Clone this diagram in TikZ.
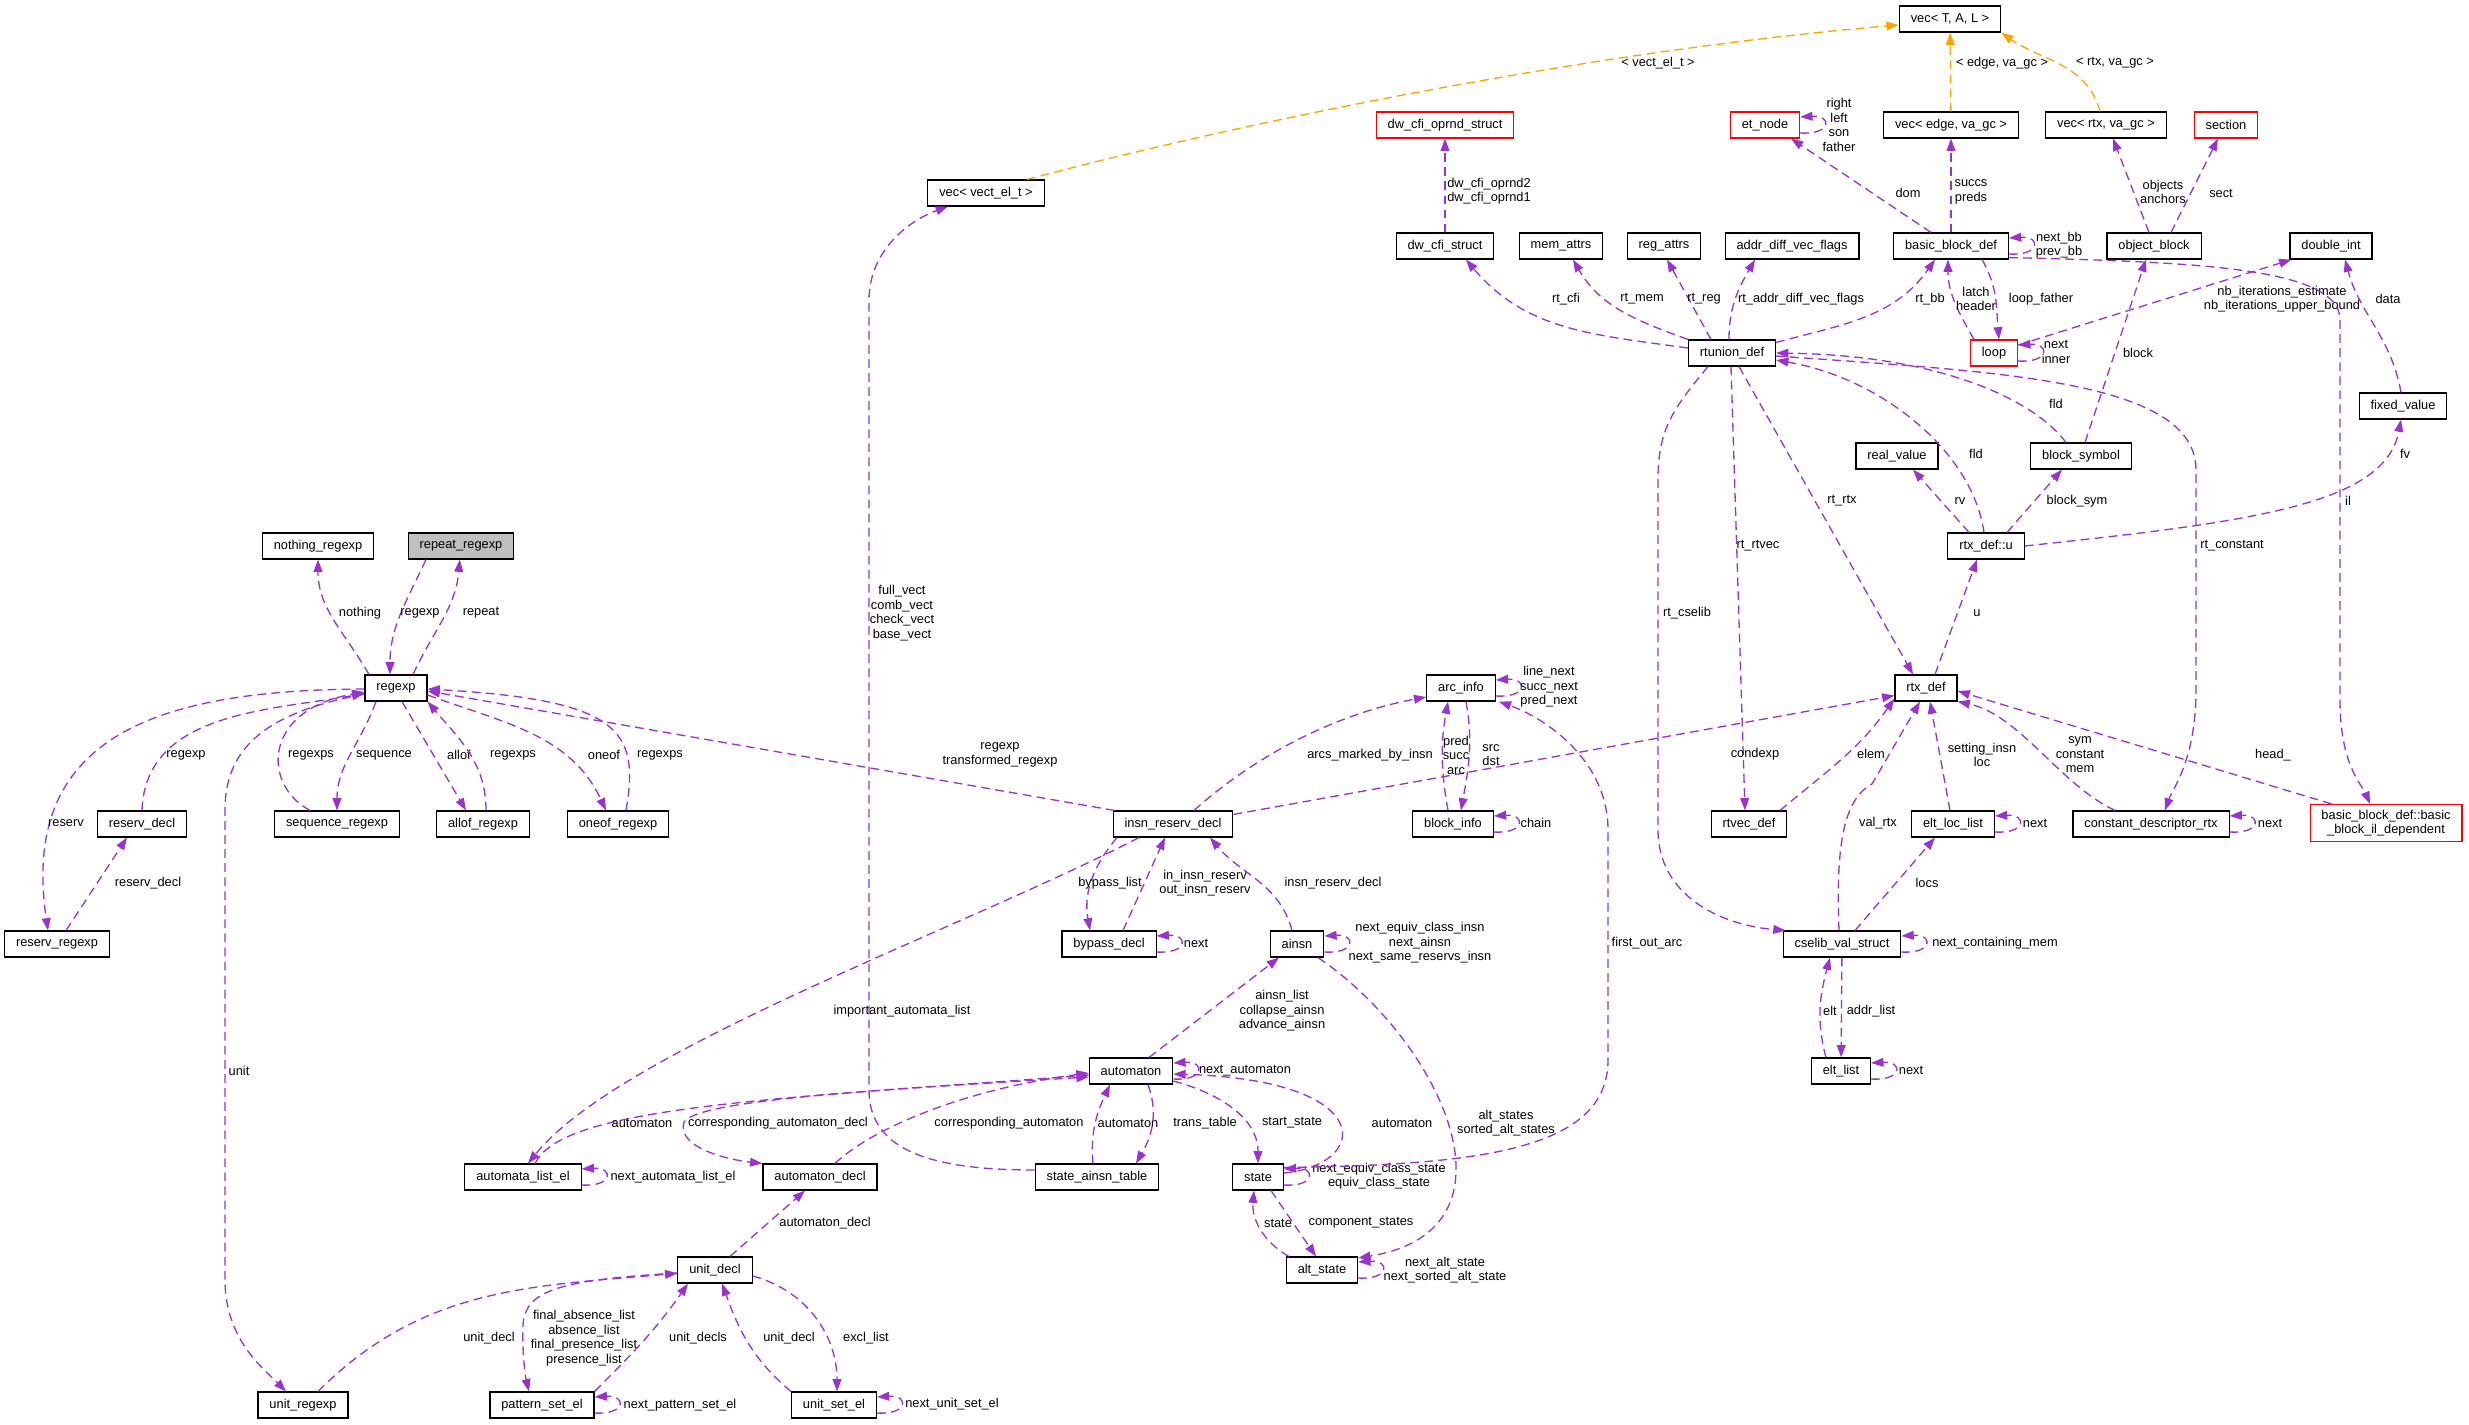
\documentclass[tikz,border=0pt]{standalone}
\usepackage{fontspec}
\setmainfont{Liberation Sans}
\usetikzlibrary{arrows.meta, calc}
\definecolor{dxpurple}{HTML}{9A32CD}
\definecolor{dxorange}{HTML}{FFA500}
\definecolor{dxgrey}{HTML}{BFBFBF}

\begin{document}
\begin{tikzpicture}[x=0.02cm, y=0.02cm, font=\fontsize{7.3}{8.3}\selectfont,
    >={Triangle[length=7pt,width=5pt]},
    cbox/.style={rectangle, draw=black, line width=0.65pt, fill=white, minimum height=0.52cm,
      inner xsep=6.5pt, inner ysep=0pt},
    rbox/.style={cbox, draw=red},
    gbox/.style={cbox, fill=dxgrey},
    rel/.style={->, draw=dxpurple, line width=0.75pt, dash pattern=on 5pt off 3pt},
    tpl/.style={rel, draw=dxorange},
    lbl/.style={align=center, inner sep=0pt, text=black},
  ]
    \useasboundingbox (0,0) rectangle (2469,-1424);

    \node[cbox] (vtal)     at (1950,-19)  {vec< T, A, L >};
    \node[cbox] (vvect)    at (986,-193)  {vec< vect\_el\_t >};
    \node[rbox] (dwopnd)   at (1445,-125) {dw\_cfi\_oprnd\_struct};
    \node[rbox] (etnode)   at (1765,-125) {et\_node};
    \node[cbox] (vedge)    at (1951,-125) {vec< edge, va\_gc >};
    \node[cbox] (vrtx)     at (2106,-125) {vec< rtx, va\_gc >};
    \node[rbox] (sectn)    at (2226,-125) {section};
    \node[cbox] (dwcfi)    at (1445,-246) {dw\_cfi\_struct};
    \node[cbox] (memattrs) at (1561,-246) {mem\_attrs};
    \node[cbox] (regattrs) at (1664,-246) {reg\_attrs};
    \node[cbox] (addrdiff) at (1792,-246) {addr\_diff\_vec\_flags};
    \node[cbox] (bbdef)    at (1951,-246) {basic\_block\_def};
    \node[cbox] (objblock) at (2154,-246) {object\_block};
    \node[cbox] (dblint)   at (2331,-246) {double\_int};
    \node[cbox] (rtunion)  at (1732,-353) {rtunion\_def};
    \node[rbox] (loopn)    at (1994,-353) {loop};
    \node[cbox] (fixedval) at (2403,-406) {fixed\_value};
    \node[cbox] (realval)  at (1897,-456) {real\_value};
    \node[cbox] (blocksym) at (2081,-456) {block\_symbol};
    \node[cbox] (rtxu)     at (1986,-546) {rtx\_def::u};
    \node[cbox] (rtxdef)   at (1926,-688) {rtx\_def};
    \node[cbox] (rtvec)    at (1749,-824) {rtvec\_def};
    \node[cbox] (eltloc)   at (1953,-824) {elt\_loc\_list};
    \node[cbox] (constdesc) at (2151,-824) {constant\_descriptor\_rtx};
    \node[rbox, inner ysep=3pt, align=center] (bbil) at (2386,-823) {basic\_block\_def::basic\\\_block\_il\_dependent};
    \node[cbox] (cselib)   at (1842,-944) {cselib\_val\_struct};
    \node[cbox] (eltlist)  at (1841,-1071) {elt\_list};

    \node[cbox] (nothing)  at (318,-546)  {nothing\_regexp};
    \node[gbox] (repeat)   at (461,-546)  {repeat\_regexp};
    \node[cbox] (regexp)   at (396,-688)  {regexp};
    \node[cbox] (reservdecl) at (142,-824) {reserv\_decl};
    \node[cbox] (seqre)    at (337,-824)  {sequence\_regexp};
    \node[cbox] (allof)    at (483,-824)  {allof\_regexp};
    \node[cbox] (oneof)    at (618,-824)  {oneof\_regexp};
    \node[cbox] (reservre) at (57,-944)   {reserv\_regexp};
    \node[cbox] (arcinfo)  at (1461,-688) {arc\_info};
    \node[cbox] (blockinfo) at (1453,-824) {block\_info};
    \node[cbox] (insnrd)   at (1173,-824) {insn\_reserv\_decl};
    \node[cbox] (bypass)   at (1109,-944) {bypass\_decl};
    \node[cbox] (ainsn)    at (1297,-944) {ainsn};
    \node[cbox] (automaton) at (1131,-1071) {automaton};
    \node[cbox] (autolist) at (523,-1177) {automata\_list\_el};
    \node[cbox] (autodecl) at (820,-1177) {automaton\_decl};
    \node[cbox] (sat)      at (1097,-1177) {state\_ainsn\_table};
    \node[cbox] (state)    at (1258,-1177) {state};
    \node[cbox] (altstate) at (1322,-1270) {alt\_state};
    \node[cbox] (unitdecl) at (715,-1270) {unit\_decl};
    \node[cbox] (unitre)   at (303,-1405) {unit\_regexp};
    \node[cbox] (pattern)  at (542,-1405) {pattern\_set\_el};
    \node[cbox] (unitset)  at (834,-1405) {unit\_set\_el};

    \foreach \nd/\t/\lx/\ly in {etnode/{right\\left\\son\\father}/1839/-125,
        bbdef/{next\_bb\\prev\_bb}/2059/-245, loopn/{next\\inner}/2056/-352,
        arcinfo/{line\_next\\succ\_next\\pred\_next}/1549/-687, blockinfo/chain/1536/-823,
        bypass/next/1196/-943, ainsn/{next\_equiv\_class\_insn\\next\_ainsn\\next\_same\_reservs\_insn}/1420/-943,
        automaton/next\_automaton/1245/-1071, state/{next\_equiv\_class\_state\\equiv\_class\_state}/1379/-1176,
        altstate/{next\_alt\_state\\next\_sorted\_alt\_state}/1445/-1270, autolist/next\_automata\_list\_el/673/-1177,
        pattern/next\_pattern\_set\_el/680/-1405, unitset/next\_unit\_set\_el/952/-1404,
        eltloc/next/2035/-823, constdesc/next/2270/-823, cselib/next\_containing\_mem/1995/-943,
        eltlist/next/1911/-1070} {
      \draw[rel] ($(\nd.east)+(0,-8)$) .. controls +(32,-2) and +(32,2) .. ($(\nd.east)+(0,8)$)
        node[lbl] at (\lx,\ly) {\t};
    }

    \draw[rel] ($(regexp.north)+(-27,0)$) to[out=120,in=-90] (nothing) node[lbl] at (360,-613) {nothing};
    \draw[rel] ($(repeat.south)+(-35,0)$) to[out=-115,in=90] ($(regexp.north)+(-6,0)$) node[lbl] at (420,-613) {regexp};
    \draw[rel] ($(regexp.north)+(17,0)$) to[out=65,in=-95] (repeat) node[lbl] at (481,-613) {repeat};
    \draw[rel] (reservdecl.north) to[out=88,in=190] (regexp) node[lbl] at (186,-755) {regexp};
    \draw[rel] ($(regexp.west)+(0,-1)$) .. controls (150,-690) and (20,-740) .. ($(reservre.north)+(-9,0)$) node[lbl] at (66,-823) {reserv};
    \draw[rel] ($(reservre.north)+(9,0)$) -- ($(reservdecl.south)+(-15,0)$) node[lbl] at (148,-883) {reserv\_decl};
    \draw[rel] ($(seqre.north)+(-27,0)$) .. controls (262,-785) and (262,-710) .. ($(regexp.west)+(0,-4)$) node[lbl] at (311,-755) {regexps};
    \draw[rel] ($(regexp.south)+(-20,0)$) to[out=-110,in=90] (seqre) node[lbl] at (384,-755) {sequence};
    \draw[rel] ($(regexp.south)+(6,0)$) -- ($(allof.north)+(-17,0)$) node[lbl] at (459,-755) {allof};
    \draw[rel] ($(allof.north)+(3,0)$) to[out=90,in=-50] (regexp.south east) node[lbl] at (513,-755) {regexps};
    \draw[rel] ($(regexp.east)+(0,-7)$) to[out=-20,in=115] ($(oneof.north)+(-12,0)$) node[lbl] at (604,-755) {oneof};
    \draw[rel] ($(oneof.north)+(8,0)$) .. controls (640,-730) and (620,-700) .. ($(regexp.east)+(0,-1)$) node[lbl] at (660,-755) {regexps};
    \draw[rel] ($(insnrd.north west)+(2,0)$) -- ($(regexp.east)+(0,-3)$) node[lbl] at (1000,-755) {regexp\\transformed\_regexp};
    \draw[rel] ($(regexp.west)+(0,-6)$) .. controls (270,-712) and (225,-745) .. (225,-810) -- (225,-1280)
      .. controls (225,-1340) and (265,-1370) .. ($(unitre.north)+(-17,0)$) node[lbl] at (239,-1071) {unit};

    \draw[tpl] ($(vvect.north)+(41,0)$) .. controls (1250,-120) and (1600,-50) .. ($(vtal.west)+(0,-6)$) node[lbl] at (1658,-63) {< vect\_el\_t >};
    \draw[tpl] (vedge) -- (vtal) node[lbl] at (2002,-63) {< edge, va\_gc >};
    \draw[tpl] ($(vrtx.north)+(-6,0)$) to[out=105,in=-35] (vtal.south east) node[lbl] at (2115,-63) {< rtx, va\_gc >};

    \draw[rel, line width=0.6pt] (dwcfi) -- (dwopnd) node[lbl] at (1489,-191) {dw\_cfi\_oprnd2\\dw\_cfi\_oprnd1};
    \draw[rel] ($(bbdef.north)+(-20,0)$) -- ($(etnode.south)+(26,0)$) node[lbl] at (1908,-193) {dom};
    \draw[rel] (bbdef) -- (vedge) node[lbl] at (1971,-192) {succs\\preds};
    \draw[rel] ($(objblock.north)+(-5,0)$) -- ($(vrtx.south)+(7,0)$) node[lbl] at (2163,-192) {objects\\anchors};
    \draw[rel] ($(objblock.north)+(17,0)$) -- ($(sectn.south)+(-8,0)$) node[lbl] at (2221,-193) {sect};
    \draw[rel] ($(bbdef.south)+(31,0)$) to[out=-60,in=95] ($(loopn.north)+(5,0)$) node[lbl] at (2041,-299) {loop\_father};
    \draw[rel] ($(loopn.north)+(-20,0)$) to[out=120,in=-90] ($(bbdef.south)+(-3,0)$) node[lbl] at (1976,-299) {latch\\header};
    \draw[rel] ($(loopn.east)+(0,8)$) -- ($(dblint.south west)+(2,0)$) node[lbl] at (2282,-299) {nb\_iterations\_estimate\\nb\_iterations\_upper\_bound};
    \draw[rel] ($(fixedval.north)+(-2,0)$) to[out=100,in=-75] ($(dblint.south)+(14,0)$) node[lbl] at (2388,-299) {data};
    \draw[rel] ($(bbdef.south east)+(0,2)$) .. controls (2200,-262) and (2340,-268) .. (2340,-320) -- (2340,-700)
      .. controls (2340,-765) and (2362,-785) .. ($(bbil.north)+(-16,0)$) node[lbl] at (2348,-501) {il};
    \draw[rel] (rtxu.east) .. controls (2250,-522) and (2385,-505) .. ($(fixedval.south)+(-2,0)$) node[lbl] at (2405,-454) {fv};
    \draw[rel] ($(rtxu.north)+(-17,0)$) -- ($(realval.south)+(16,0)$) node[lbl] at (1960,-501) {rv};
    \draw[rel] ($(rtxu.north)+(21,0)$) -- ($(blocksym.south)+(-19,0)$) node[lbl] at (2077,-501) {block\_sym};
    \draw[rel] ($(rtxu.north)+(-2,0)$) .. controls (1972,-450) and (1880,-378) .. ($(rtunion.east)+(0,-7)$) node[lbl] at (1976,-454) {fld};
    \draw[rel] ($(blocksym.north)+(-15,0)$) .. controls (2030,-395) and (1930,-355) .. (rtunion.east) node[lbl] at (2056,-404) {fld};
    \draw[rel] ($(blocksym.north)+(4,0)$) -- ($(objblock.south)+(-8,0)$) node[lbl] at (2138,-353) {block};
    \draw[rel] ($(rtunion.north)+(-21,0)$) -- ($(regattrs.south)+(3,0)$) node[lbl] at (1704,-299) {rt\_reg};
    \draw[rel] ($(rtunion.north)+(-3,0)$) to[out=90,in=-120] ($(addrdiff.south)+(-37,0)$) node[lbl] at (1801,-299) {rt\_addr\_diff\_vec\_flags};
    \draw[rel] ($(rtunion.north east)+(0,-3)$) to[out=15,in=-125] ($(bbdef.south)+(-16,0)$) node[lbl] at (1930,-299) {rt\_bb};
    \draw[rel] (rtunion.north west) to[out=160,in=-60] ($(memattrs.south)+(12,0)$) node[lbl] at (1642,-299) {rt\_mem};
    \draw[rel] ($(rtunion.west)+(0,5)$) to[out=172,in=-50] ($(dwcfi.south)+(21,0)$) node[lbl] at (1566,-299) {rt\_cfi};
    \draw[rel] ($(rtunion.south)+(7,0)$) -- ($(rtxdef.north)+(-13,0)$) node[lbl] at (1842,-501) {rt\_rtx};
    \draw[rel] ($(rtunion.south)+(-1,0)$) -- ($(rtvec.north)+(-4,0)$) node[lbl] at (1758,-546) {rt\_rtvec};
    \draw[rel] ($(rtunion.south)+(-24,0)$) .. controls (1672,-410) and (1658,-430) .. (1658,-480) -- (1658,-830)
      .. controls (1658,-895) and (1720,-925) .. ($(cselib.north west)+(3,0)$) node[lbl] at (1687,-613) {rt\_cselib};
    \draw[rel] ($(rtunion.east)+(0,-3)$) .. controls (2000,-372) and (2196,-380) .. (2196,-470) -- (2196,-690)
      .. controls (2196,-760) and (2172,-790) .. ($(constdesc.north)+(14,0)$) node[lbl] at (2232,-546) {rt\_constant};

    \draw[rel] ($(rtxdef.north)+(9,0)$) -- ($(rtxu.south)+(-9,0)$) node[lbl] at (1977,-613) {u};
    \draw[rel] ($(rtvec.north)+(31,0)$) to[out=40,in=-125] ($(rtxdef.south west)+(0,3)$) node[lbl] at (1871,-754) {elem};
    \draw[rel] ($(insnrd.north east)+(0,-4)$) -- ($(rtxdef.south west)+(0,6)$) node[lbl] at (1755,-754) {condexp};
    \draw[rel] ($(cselib.north)+(-3,0)$) .. controls (1836,-850) and (1842,-800) .. (1872,-784) -- ($(rtxdef.south)+(-6,0)$) node[lbl] at (1878,-823) {val\_rtx};
    \draw[rel] ($(eltloc.north)+(-3,0)$) -- ($(rtxdef.south)+(4,0)$) node[lbl] at (1982,-755) {setting\_insn\\loc};
    \draw[rel] ($(constdesc.north)+(-36,0)$) .. controls (2060,-785) and (2020,-715) .. (rtxdef.south east) node[lbl] at (2080,-755) {sym\\constant\\mem};
    \draw[rel] ($(bbil.north west)+(22,0)$) -- ($(rtxdef.east)+(0,-3)$) node[lbl] at (2273,-755) {head\_};
    \draw[rel] ($(cselib.north)+(13,0)$) -- ($(eltloc.south)+(-18,0)$) node[lbl] at (1927,-883) {locs};
    \draw[rel] (cselib) -- (eltlist) node[lbl] at (1871,-1011) {addr\_list};
    \draw[rel] ($(eltlist.north)+(-15,0)$) to[out=105,in=-105] ($(cselib.south)+(-12,0)$) node[lbl] at (1830,-1011) {elt};

    \draw[rel] ($(arcinfo.south)+(5,0)$) to[out=-80,in=80] ($(blockinfo.north)+(8,0)$) node[lbl] at (1491,-755) {src\\dst};
    \draw[rel] ($(blockinfo.north)+(-5,0)$) to[out=100,in=-100] ($(arcinfo.south)+(-13,0)$) node[lbl] at (1456,-755) {pred\\succ\\arc};
    \draw[rel] ($(insnrd.north)+(21,0)$) .. controls (1250,-760) and (1330,-715) .. ($(arcinfo.west)+(0,-9)$) node[lbl] at (1370,-755) {arcs\_marked\_by\_insn};
    \draw[rel] ($(state.north east)+(0,-4)$) .. controls (1480,-1165) and (1608,-1150) .. (1608,-1060) -- (1608,-830)
      .. controls (1608,-760) and (1545,-718) .. ($(arcinfo.south east)+(3,0)$) node[lbl] at (1647,-943) {first\_out\_arc};

    \draw[rel] ($(insnrd.south)+(-56,0)$) to[out=-130,in=100] ($(bypass.north)+(-19,0)$) node[lbl] at (1110,-883) {bypass\_list};
    \draw[rel] ($(bypass.north)+(14,0)$) -- ($(insnrd.south)+(-8,0)$) node[lbl] at (1205,-883) {in\_insn\_reserv\\out\_insn\_reserv};
    \draw[rel] ($(ainsn.north)+(-5,0)$) to[out=105,in=-50] ($(insnrd.south)+(37,0)$) node[lbl] at (1333,-883) {insn\_reserv\_decl};
    \draw[rel] ($(insnrd.south)+(-34,0)$) .. controls (960,-930) and (620,-1050) .. ($(autolist.north)+(5,0)$) node[lbl] at (902,-1011) {important\_automata\_list};

    \draw[rel] ($(autolist.north)+(12,0)$) .. controls (560,-1115) and (700,-1100) .. ($(automaton.west)+(0,-6)$) node[lbl] at (642,-1123) {automaton};
    \draw[rel] ($(automaton.west)+(0,-4)$) .. controls (900,-1090) and (700,-1098) .. (684,-1122)
      .. controls (676,-1148) and (730,-1160) .. (autodecl.north west) node[lbl] at (778,-1123) {corresponding\_automaton\_decl};
    \draw[rel] ($(autodecl.north)+(15,0)$) .. controls (870,-1130) and (960,-1090) .. ($(automaton.west)+(0,-2)$) node[lbl] at (1009,-1123) {corresponding\_automaton};
    \draw[rel] ($(sat.north)+(-4,0)$) to[out=95,in=-115] ($(automaton.south)+(-21,0)$) node[lbl] at (1128,-1123) {automaton};
    \draw[rel] ($(automaton.south)+(17,0)$) to[out=-70,in=60] ($(sat.north)+(39,0)$) node[lbl] at (1205,-1123) {trans\_table};
    \draw[rel] ($(sat.west)+(0,7)$) .. controls (930,-1170) and (869,-1150) .. (869,-1090) -- (869,-300)
      .. controls (869,-250) and (910,-220) .. ($(vvect.south)+(-38,0)$) node[lbl] at (902,-613) {full\_vect\\comb\_vect\\check\_vect\\base\_vect};
    \draw[rel] ($(automaton.north)+(18,0)$) -- ($(ainsn.south)+(-18,0)$) node[lbl] at (1282,-1011) {ainsn\_list\\collapse\_ainsn\\advance\_ainsn};
    \draw[rel] ($(ainsn.south)+(21,0)$) .. controls (1440,-1040) and (1530,-1230) .. ($(altstate.east)+(0,12)$) node[lbl] at (1506,-1123) {alt\_states\\sorted\_alt\_states};
    \draw[rel] ($(automaton.east)+(0,-10)$) to[out=-15,in=90] (state) node[lbl] at (1292,-1123) {start\_state};
    \draw[rel] ($(state.east)+(0,4)$) .. controls (1370,-1165) and (1380,-1080) .. ($(automaton.east)+(0,-3)$) node[lbl] at (1402,-1123) {automaton};
    \draw[rel] ($(state.south)+(13,0)$) -- ($(altstate.north)+(-6,0)$) node[lbl] at (1361,-1223) {component\_states};
    \draw[rel] ($(altstate.north west)+(3,0)$) to[out=150,in=-95] ($(state.south)+(-4,0)$) node[lbl] at (1278,-1223) {state};

    \draw[rel] ($(unitdecl.north)+(15,0)$) -- ($(autodecl.south)+(-15,0)$) node[lbl] at (825,-1223) {automaton\_decl};
    \draw[rel] ($(unitre.north)+(15,0)$) to[out=45,in=185] (unitdecl) node[lbl] at (489,-1338) {unit\_decl};
    \draw[rel] ($(unitdecl.west)+(0,-3)$) .. controls (560,-1280) and (525,-1290) .. (523,-1325)
      .. controls (522,-1350) and (525,-1375) .. ($(pattern.north)+(-13,0)$) node[lbl] at (584,-1338) {final\_absence\_list\\absence\_list\\final\_presence\_list\\presence\_list};
    \draw[rel] (pattern.north east) to[out=45,in=-125] ($(unitdecl.south)+(-27,0)$) node[lbl] at (698,-1338) {unit\_decls};
    \draw[rel] (unitset.north west) to[out=140,in=-70] ($(unitdecl.south)+(7,0)$) node[lbl] at (789,-1338) {unit\_decl};
    \draw[rel] ($(unitdecl.east)+(0,-6)$) to[out=-15,in=90] ($(unitset.north)+(3,0)$) node[lbl] at (866,-1338) {excl\_list};
  \end{tikzpicture}
\end{document}
